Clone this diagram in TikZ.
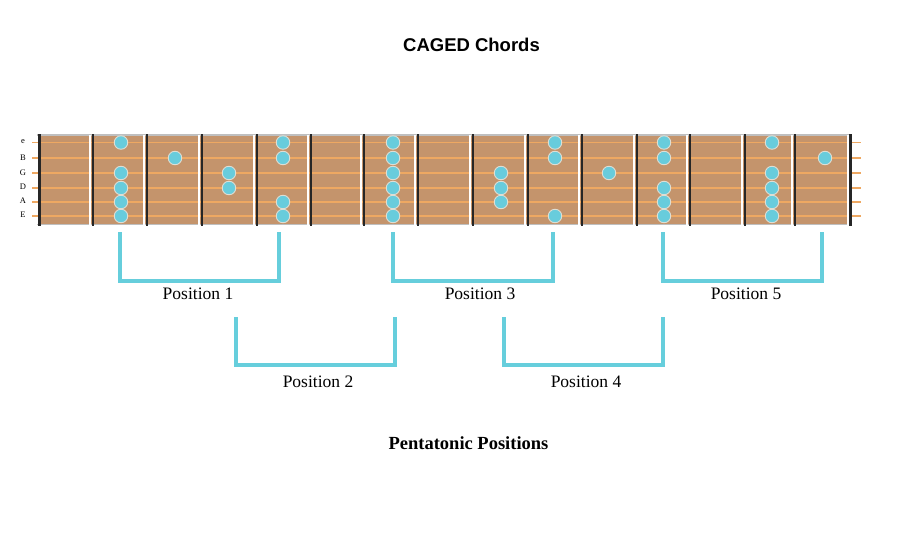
\documentclass[tikz,border=0pt]{standalone}
\usepackage{fontspec}
\setmainfont{Liberation Serif}
\newfontfamily\headsans{Liberation Sans}
\definecolor{wood}{RGB}{196,148,108}
\definecolor{stringc}{RGB}{238,168,98}
\definecolor{dotc}{RGB}{104,204,220}
\definecolor{dotrim}{RGB}{222,222,212}
\definecolor{brk}{RGB}{102,206,220}
\tikzset{
  dotmark/.style={circle, fill=dotc, draw=dotrim, line width=0.9pt, minimum size=13.5pt, inner sep=0pt},
  brack/.style={draw=brk, line width=3.2pt, miter limit=10},
  poslabel/.style={font=\fontsize{17.5}{20}\selectfont, inner sep=0pt},
  strlabel/.style={font=\fontsize{8.5}{10}\selectfont, inner sep=0pt},
  fretdark/.style={draw=black!85, line width=2.6pt},
  fretlight/.style={draw=white, line width=2pt},
}
\begin{document}
\begin{tikzpicture}[x=1pt,y=-1pt]
\useasboundingbox[fill=white] (0,0) rectangle (900,536);
% titles
\node[font=\headsans\bfseries\fontsize{18.5}{22}\selectfont, inner sep=0pt] (title) at (471.5,45) {CAGED Chords};
\node[font=\bfseries\fontsize{18.5}{22}\selectfont, inner sep=0pt] (subtitle) at (468.5,443) {Pentatonic Positions};
% fretboard
\fill[wood] (39,135) rectangle (851,224);
\draw[black!25, line width=1.8pt] (37,135) -- (852,135);
\draw[black!25, line width=1.8pt] (37,224.5) -- (852,224.5);
% strings
\foreach \y in {142.5,158,173,188,202,216}
  \draw[stringc, line width=1.2pt] (32,\y) -- (861,\y);
% frets
\foreach \x in {93,147,202,257,311,364,418,473,528,582,637,690,745,795}{
  \draw[fretlight] (\x-3,135) -- (\x-3,225);
  \draw[fretdark] (\x,134) -- (\x,226);
}
\draw[fretdark] (39.5,134) -- (39.5,226);
\draw[fretlight] (847.5,135) -- (847.5,225);
\draw[fretdark] (850.5,134) -- (850.5,226);
% string labels
\node[strlabel] (se) at (23,142) {e};
\node[strlabel] (sB) at (23,158) {B};
\node[strlabel] (sG) at (23,173) {G};
\node[strlabel] (sD) at (23,187) {D};
\node[strlabel] (sA) at (23,201) {A};
\node[strlabel] (sE) at (23,215) {E};
% dots: x / list of string y
\foreach \x/\ys in {121/{142.5,173,188,202,216},
                    175/{158},
                    229/{173,188},
                    283/{142.5,158,202,216},
                    393/{142.5,158,173,188,202,216},
                    501/{173,188,202},
                    555/{142.5,158,216},
                    609/{173},
                    664/{142.5,158,188,202,216},
                    772/{142.5,173,188,202,216},
                    825/{158}}{
  \foreach \y in \ys
    \node[dotmark] (dot-\x-\y) at (\x,\y) {};
}
% brackets
\coordinate (p1a) at (120,232); \coordinate (p1b) at (120,281);
\coordinate (p1c) at (279,281); \coordinate (p1d) at (279,232);
\draw[brack] (p1a) -- (p1b) -- (p1c) -- (p1d);
\node[poslabel] (l1) at (198,294) {Position 1};

\coordinate (p2a) at (236,317); \coordinate (p2b) at (236,365);
\coordinate (p2c) at (395,365); \coordinate (p2d) at (395,317);
\draw[brack] (p2a) -- (p2b) -- (p2c) -- (p2d);
\node[poslabel] (l2) at (318,382) {Position 2};

\coordinate (p3a) at (393,232); \coordinate (p3b) at (393,281);
\coordinate (p3c) at (553,281); \coordinate (p3d) at (553,232);
\draw[brack] (p3a) -- (p3b) -- (p3c) -- (p3d);
\node[poslabel] (l3) at (480,294) {Position 3};

\coordinate (p4a) at (504,317); \coordinate (p4b) at (504,365);
\coordinate (p4c) at (663,365); \coordinate (p4d) at (663,317);
\draw[brack] (p4a) -- (p4b) -- (p4c) -- (p4d);
\node[poslabel] (l4) at (586,382) {Position 4};

\coordinate (p5a) at (663,232); \coordinate (p5b) at (663,281);
\coordinate (p5c) at (822,281); \coordinate (p5d) at (822,232);
\draw[brack] (p5a) -- (p5b) -- (p5c) -- (p5d);
\node[poslabel] (l5) at (746,294) {Position 5};
\end{tikzpicture}
\end{document}
